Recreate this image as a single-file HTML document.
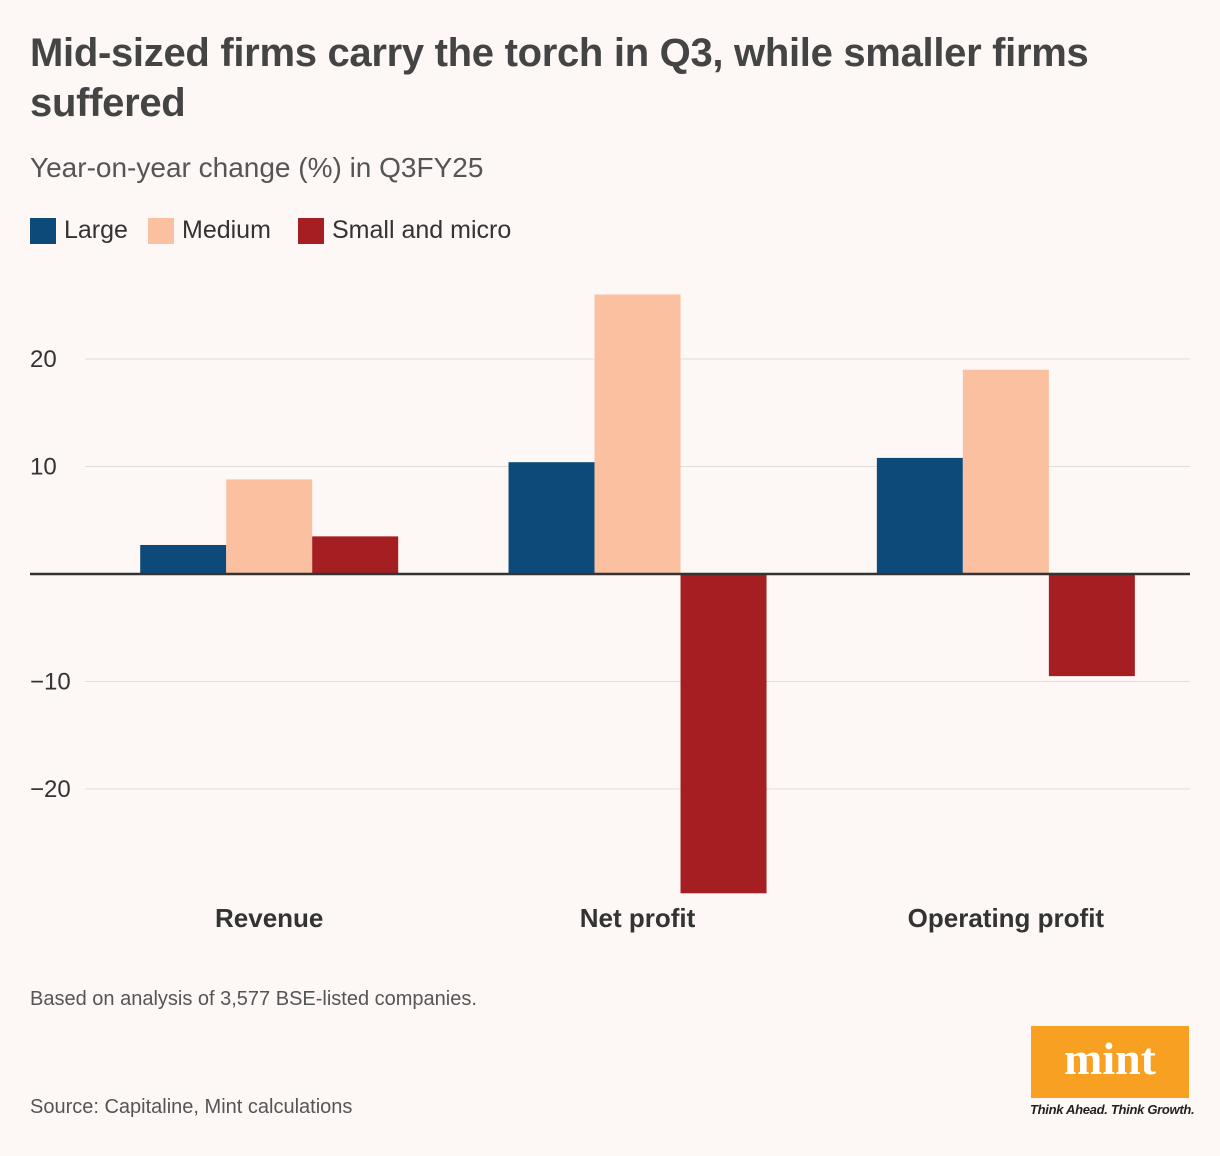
<!DOCTYPE html>
<html><head><meta charset="utf-8"><style>
body{margin:0;width:1220px;height:1156px;background:#fdf7f5;font-family:"Liberation Sans",sans-serif;position:relative;overflow:hidden;color:#333}
.t{position:absolute;left:30px;top:28px;font-size:40px;font-weight:bold;line-height:50px;color:#444;width:1120px;letter-spacing:-0.3px}
.s{position:absolute;left:30px;top:152px;font-size:28px;color:#555}
.lg{position:absolute;top:216px;font-size:25px;color:#333;display:flex;align-items:center}
.lg i{display:inline-block;width:26px;height:26px;margin-right:8px}
.n{position:absolute;left:30px;font-size:20px;color:#555}
</style></head><body>
<div class="t">Mid-sized firms carry the torch in Q3, while smaller firms suffered</div>
<div class="s">Year-on-year change (%) in Q3FY25</div>
<div class="lg" style="left:30px"><i style="background:#0d4a7a"></i>Large</div>
<div class="lg" style="left:148px"><i style="background:#fbc0a0"></i>Medium</div>
<div class="lg" style="left:298px"><i style="background:#a51e22"></i>Small and micro</div>
<svg id="c" width="1220" height="1156" style="position:absolute;left:0;top:0"></svg>
<div class="n" style="top:988px">Based on analysis of 3,577 BSE-listed companies.</div>
<div class="n" style="top:1096px">Source: Capitaline, Mint calculations</div>
<div style="position:absolute;left:1031px;top:1026px;width:158px;height:72px;background:#f7a021;color:#fff;font-family:'Liberation Serif',serif;font-weight:bold;font-size:46px;text-align:center;line-height:66px">mint</div>
<div style="position:absolute;left:1030px;top:1102px;font-size:13px;font-style:italic;font-weight:bold;color:#222;letter-spacing:-0.3px">Think Ahead. Think Growth.</div>
<script>
const categories=["Revenue","Net profit","Operating profit"];
const large=[2.7,10.4,10.8];
const medium=[8.8,26.0,19.0];
const small=[3.5,-29.7,-9.5];
const ticks=[-20,-10,10,20];
const colors=["#0d4a7a","#fbc0a0","#a51e22"];
const svg=document.getElementById('c');const NS="http://www.w3.org/2000/svg";
const y=v=>574-v*10.75;
const bandX=i=>85+i*368.33;
function mk(t,a){const e=document.createElementNS(NS,t);for(const k in a)e.setAttribute(k,a[k]);svg.appendChild(e);return e;}
ticks.forEach(t=>{const l=mk('line',{x1:85,x2:1190,y1:y(t),y2:y(t),stroke:'#ddd','stroke-width':1});


const tx=mk('text',{x:30,y:y(t)+8,'font-size':24,fill:'#333','font-family':'Liberation Sans, sans-serif'});tx.textContent=t<0?'\u2212'+Math.abs(t):t;

});
[large,medium,small].forEach((s,si)=>s.forEach((v,i)=>{const cx=bandX(i)+184.2;const x=cx-129+si*86;
const r=mk('rect',{x:x,y:Math.min(y(v),y(0)),width:86,height:Math.abs(y(v)-y(0)),fill:colors[si]});

}));
const z=mk('line',{x1:30,x2:1190,y1:y(0),y2:y(0),stroke:'#333','stroke-width':2.5});


categories.forEach((c,i)=>{const t=mk('text',{x:bandX(i)+184.2,y:927,'text-anchor':'middle','font-size':26,'font-weight':'bold',fill:'#333','font-family':'Liberation Sans, sans-serif'});t.textContent=c;

});
</script>
</body></html>
